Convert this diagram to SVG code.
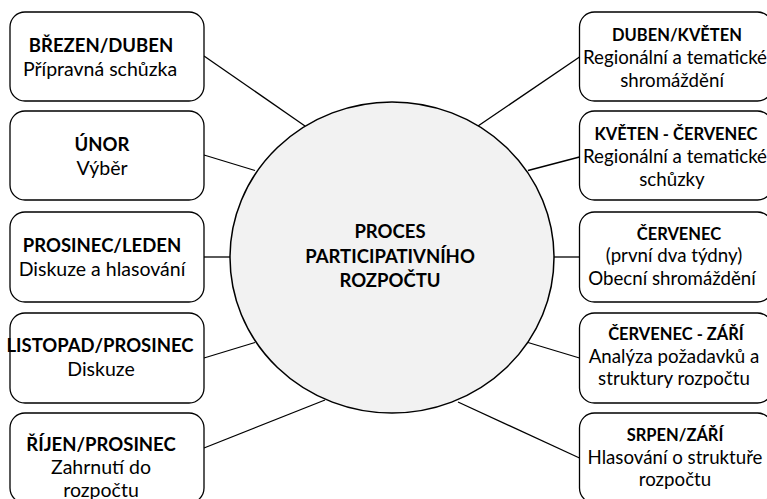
<svg xmlns="http://www.w3.org/2000/svg" width="767" height="499" viewBox="0 0 767 499">
<style>
.box{fill:#fff;stroke:#000;stroke-width:1.3}
.hub{fill:#f2f2f2;stroke:#000;stroke-width:1.5}
.ln{stroke:#000;stroke-width:1.3;fill:none}
text{font-family:Lato,"Noto Sans",sans-serif;fill:#000;text-anchor:middle}
.lb{font-size:18.5px;font-weight:bold}
.lr{font-size:19.5px}
.rb{font-size:16.5px;font-weight:bold}
.rr{font-size:18.7px}
.cb{font-size:18.5px;font-weight:bold}
</style>
<rect width="767" height="499" fill="#fff"/>
<g id="connectors">
<line class="ln" x1="204" y1="56" x2="305" y2="126"/>
<line class="ln" x1="204" y1="155" x2="255" y2="170.5"/>
<line class="ln" x1="204" y1="257" x2="232" y2="257"/>
<line class="ln" x1="204" y1="358" x2="255" y2="342.5"/>
<line class="ln" x1="204" y1="448" x2="325" y2="400"/>
<line class="ln" x1="478" y1="126" x2="579.5" y2="57"/>
<line class="ln" x1="528" y1="170.5" x2="579.5" y2="157"/>
<line class="ln" x1="552" y1="257" x2="579.5" y2="257"/>
<line class="ln" x1="528" y1="342.5" x2="579.5" y2="358"/>
<line class="ln" x1="458" y1="402" x2="579.5" y2="458"/>
</g>
<g id="hub">
<ellipse class="hub" cx="392" cy="257.5" rx="162" ry="155.5"/>
<text class="cb" x="390" y="238">PROCES</text>
<text class="cb" x="390" y="262.5">PARTICIPATIVNÍHO</text>
<text class="cb" x="390" y="287">ROZPOČTU</text>
</g>
<g id="left1">
<rect class="box" x="10" y="12" width="194" height="89" rx="15"/>
<text class="lb" x="101" y="52">BŘEZEN/DUBEN</text>
<text class="lr" x="100" y="75.5">Přípravná schůzka</text>
</g>
<g id="left2">
<rect class="box" x="10" y="111" width="194" height="89" rx="15"/>
<text class="lb" x="102" y="151">ÚNOR</text>
<text class="lr" x="102" y="175">Výběr</text>
</g>
<g id="left3">
<rect class="box" x="10" y="212" width="194" height="90" rx="15"/>
<text class="lb" x="102" y="251.5">PROSINEC/LEDEN</text>
<text class="lr" x="102" y="275.5">Diskuze a hlasování</text>
</g>
<g id="left4">
<rect class="box" x="10" y="313" width="194" height="90" rx="15"/>
<text class="lb" x="100" y="351.5">LISTOPAD/PROSINEC</text>
<text class="lr" x="101" y="376">Diskuze</text>
</g>
<g id="left5">
<rect class="box" x="10" y="413" width="194" height="90" rx="15"/>
<text class="lb" x="101" y="451">ŘÍJEN/PROSINEC</text>
<text class="lr" x="101" y="474">Zahrnutí do</text>
<text class="lr" x="101" y="496.5">rozpočtu</text>
</g>
<g id="right1">
<rect class="box" x="579.5" y="12" width="193" height="89" rx="15"/>
<text class="rb" x="677" y="41">DUBEN/KVĚTEN</text>
<text class="rr" x="675" y="64">Regionální a tematické</text>
<text class="rr" x="672" y="87">shromáždění</text>
</g>
<g id="right2">
<rect class="box" x="579.5" y="111" width="193" height="89" rx="15"/>
<text class="rb" x="676" y="140">KVĚTEN - ČERVENEC</text>
<text class="rr" x="675" y="163">Regionální a tematické</text>
<text class="rr" x="672" y="186">schůzky</text>
</g>
<g id="right3">
<rect class="box" x="579.5" y="212" width="193" height="90" rx="15"/>
<text class="rb" x="679" y="239.5">ČERVENEC</text>
<text class="rr" x="674" y="262">(první dva týdny)</text>
<text class="rr" x="672" y="284.5">Obecní shromáždění</text>
</g>
<g id="right4">
<rect class="box" x="579.5" y="313" width="193" height="90" rx="15"/>
<text class="rb" x="676" y="340">ČERVENEC - ZÁŘÍ</text>
<text class="rr" x="674" y="362.5">Analýza požadavků a</text>
<text class="rr" x="674" y="385">struktury rozpočtu</text>
</g>
<g id="right5">
<rect class="box" x="579.5" y="413" width="193" height="90" rx="15"/>
<text class="rb" x="675" y="441">SRPEN/ZÁŘÍ</text>
<text class="rr" x="675" y="463.5">Hlasování o struktuře</text>
<text class="rr" x="675" y="486">rozpočtu</text>
</g>
</svg>
